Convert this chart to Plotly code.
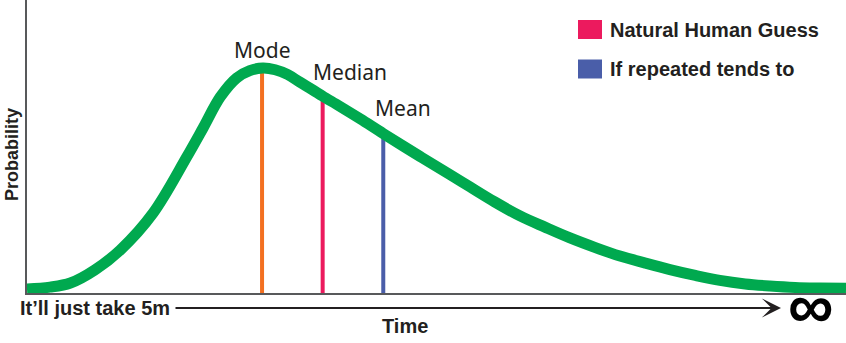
import plotly.graph_objects as go

# Right-skewed probability curve of task duration (arbitrary units, 0-100)
time_pts = [0, 2.8, 5.3, 8.3, 11.4, 15.4, 19.5, 21.5, 23.6, 25.6, 27.2, 28.8,
            30.3, 31.8, 33.3, 34.9, 36.1, 38.2, 40.7, 43.5, 48.0, 51.7, 54.1,
            57.1, 60.2, 63.3, 66.3, 69.4, 72.4, 75.5, 78.5, 81.6, 84.6, 87.7,
            90.7, 93.8, 96.8, 100]
prob_pts = [1.4, 2.0, 3.4, 7.9, 14.7, 27.3, 46.4, 56.3, 66.9, 73.4, 75.9, 76.8,
            76.2, 74.6, 72.0, 69.3, 67.2, 63.7, 59.4, 54.4, 46.6, 40.3, 36.2,
            31.1, 26.3, 22.4, 18.8, 15.5, 12.6, 10.2, 8.0, 6.0, 4.3, 3.1,
            2.4, 1.9, 1.7, 1.6]

# Summary statistics: position on the time axis and curve height there
stat_names = ["Mode", "Median", "Mean"]
stat_time = [28.7, 36.1, 43.5]
stat_prob = [76.8, 67.2, 54.4]
stat_colors = ["#F37021", "#EC1A5E", "#4A5EA9"]

legend_labels = ["Natural Human Guess", "If repeated tends to"]
legend_colors = ["#EC1A5E", "#4A5EA9"]

W, H = 846, 343
ML, MR, MT, MB = 27, 0, 0, 50
PW, PH = W - ML - MR, H - MT - MB


def px(x):
    return (x - ML) / PW


def py(y):
    return (H - MB - y) / PH


TEXT = "#231F20"

fig = go.Figure()

for name, t, p, c in zip(stat_names, stat_time, stat_prob, stat_colors):
    fig.add_trace(go.Scatter(x=[t, t], y=[0, p], mode="lines",
                             line=dict(color=c, width=4), hoverinfo="skip",
                             showlegend=False))

fig.add_trace(go.Scatter(x=time_pts, y=prob_pts, mode="lines",
                         line=dict(color="#00A94F", width=11, shape="spline",
                                   smoothing=1.0),
                         hoverinfo="skip", showlegend=False))

annotations = []
label_pos = [  # (yshift, xanchor, xshift)
    (18, "center", 0),
    (24, "left", -12),
    (26, "left", -10),
]
for name, t, p, (dy, anchor, dx) in zip(stat_names, stat_time, stat_prob,
                                        label_pos):
    annotations.append(dict(x=t, y=p, xref="x", yref="y", text=name,
                            showarrow=False, yshift=dy, xanchor=anchor,
                            xshift=dx,
                            font=dict(family="Noto Sans", size=21, color=TEXT)))

shapes = []
for i, (lab, col) in enumerate(zip(legend_labels, legend_colors)):
    yc = 29.5 + 39.5 * i
    shapes.append(dict(type="rect", xref="paper", yref="paper",
                       x0=px(578), x1=px(602), y0=py(yc - 9.5), y1=py(yc + 9.5),
                       fillcolor=col, line=dict(width=0)))
    annotations.append(dict(x=px(608), y=py(yc), xref="paper", yref="paper",
                            text=lab, showarrow=False, xanchor="left",
                            yanchor="middle",
                            font=dict(family="Liberation Sans", size=20,
                                      color=TEXT, weight="bold")))

annotations += [
    dict(x=px(12), y=py(155), xref="paper", yref="paper", text="Probability",
         showarrow=False, textangle=-90, xanchor="center", yanchor="middle",
         font=dict(family="Liberation Sans", size=18, color=TEXT, weight="bold")),
    dict(x=px(18), y=py(308), xref="paper", yref="paper",
         text="It’ll just take 5m", showarrow=False, xanchor="left",
         yanchor="middle",
         font=dict(family="Liberation Sans", size=20, color=TEXT, weight="bold")),
    dict(x=px(405), y=py(326), xref="paper", yref="paper", text="Time",
         showarrow=False, xanchor="center", yanchor="middle",
         font=dict(family="Liberation Sans", size=20, color=TEXT, weight="bold")),
    dict(x=px(781), y=py(308), xref="paper", yref="paper", text="",
         showarrow=True, ax=-(781 - 174), ay=0, axref="pixel", ayref="pixel",
         arrowhead=3, arrowsize=1.6, arrowwidth=2, arrowcolor=TEXT),
    dict(x=px(811), y=py(306), xref="paper", yref="paper", text="<b>∞</b>",
         showarrow=False, xanchor="center", yanchor="middle",
         font=dict(family="Liberation Sans", size=64, color="#000000")),
]

fig.update_layout(
    width=W, height=H,
    margin=dict(l=ML, r=MR, t=MT, b=MB),
    paper_bgcolor="white", plot_bgcolor="white",
    showlegend=False,
    xaxis=dict(range=[0, 100], showgrid=False, zeroline=False,
               showticklabels=False, ticks="", showline=True,
               linecolor="#58595B", linewidth=2, fixedrange=True),
    yaxis=dict(range=[0, 100], showgrid=False, zeroline=False,
               showticklabels=False, ticks="", showline=True,
               linecolor="#58595B", linewidth=2, fixedrange=True),
    shapes=shapes,
    annotations=annotations,
)

fig.write_html("out.html", config=dict(displayModeBar=False))
